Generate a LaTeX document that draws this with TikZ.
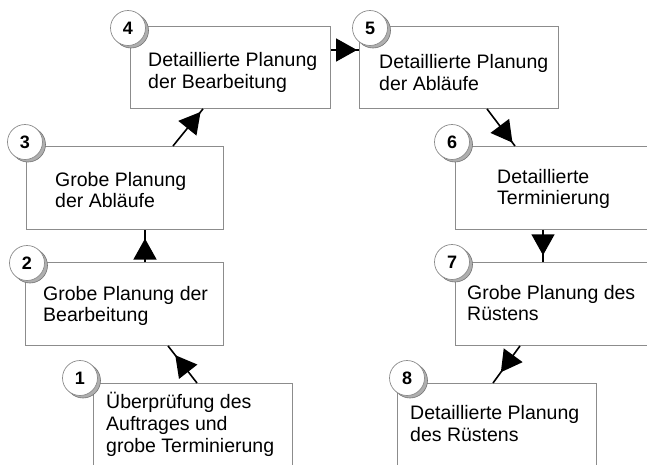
\documentclass[tikz,border=0pt]{standalone}
\usepackage{fontspec}
\setmainfont{Liberation Sans}
\usetikzlibrary{arrows.meta,decorations.markings,shadows}
\definecolor{boxline}{RGB}{140,140,140}
\definecolor{shadowfill}{RGB}{175,175,175}
\definecolor{shadowline}{RGB}{115,115,115}
\begin{document}
\begin{tikzpicture}[x=1pt,y=-1pt,
  stepbox/.style={draw=boxline, line width=0.9pt, fill=white, rectangle,
    anchor=north west, minimum width=199pt, minimum height=83pt, inner sep=0pt},
  steptext/.style={anchor=west, align=left, inner sep=0pt,
    font=\fontsize{19.5pt}{21.8pt}\selectfont},
  numcirc/.style={circle, draw=boxline, line width=0.7pt, fill=white,
    minimum size=35pt, inner sep=0pt, font=\fontsize{18pt}{18pt}\selectfont\bfseries,
    drop shadow={shadow xshift=3pt, shadow yshift=-2.5pt, fill=shadowfill,
      draw=shadowline, line width=0.6pt, opacity=1}},
  flowarrow/.style={draw=black, line width=1.6pt, postaction={decorate},
    decoration={markings, mark=at position #1 with
      {\arrow{Triangle[length=21pt,width=23pt]}}}}]
\useasboundingbox (0,0) rectangle (647,464);
\clip (0,0) rectangle (647,464);

% process steps
\node[stepbox] (b1) at (93,383) {};
\node[stepbox, minimum width=198pt] (b2) at (25,262) {};
\node[stepbox, minimum width=197pt] (b3) at (26,146) {};
\node[stepbox, minimum width=200pt, minimum height=82pt] (b4) at (130,26) {};
\node[stepbox, minimum height=82pt] (b5) at (359,26) {};
\node[stepbox, minimum width=210pt] (b6) at (455,146) {};
\node[stepbox, minimum width=210pt] (b7) at (455,262) {};
\node[stepbox] (b8) at (397,383) {};

\node[steptext] (t1) at (106,424.5) {Überprüfung des\\Auftrages und\\grobe Terminierung};
\node[steptext] (t2) at (43,306) {Grobe Planung der\\Bearbeitung};
\node[steptext] (t3) at (55,190) {Grobe Planung\\der Abläufe};
\node[steptext] (t4) at (148,72.5) {Detaillierte Planung\\der Bearbeitung};
\node[steptext] (t5) at (379,72.5) {Detaillierte Planung\\der Abläufe};
\node[steptext] (t6) at (497,189) {Detaillierte\\Terminierung};
\node[steptext] (t7) at (467,303) {Grobe Planung des\\Rüstens};
\node[steptext] (t8) at (410,423.5) {Detaillierte Planung\\des Rüstens};

% connectors between the steps
\draw[flowarrow=0.75] ([xshift=104pt]b1.north west) -- ([xshift=143pt]b2.south west);
\draw[flowarrow=0.73] ([xshift=120pt]b2.north west) -- ([xshift=119pt]b3.south west);
\draw[flowarrow=0.92] ([xshift=147pt]b3.north west) -- ([xshift=73pt]b4.south west);
\draw[flowarrow=0.93] ([yshift=-24pt]b4.north east) -- ([yshift=-24pt]b5.north west);
\draw[flowarrow=0.91] ([xshift=128pt]b5.south west) -- ([xshift=60pt]b6.north west);
\draw[flowarrow=0.79] ([xshift=88pt]b6.south west) -- ([xshift=88pt]b7.north west);
\draw[flowarrow=0.71] ([xshift=65pt]b7.south west) -- ([xshift=96pt]b8.north west);

% step numbers
\node[numcirc] (c1) at (80,378) {1};
\node[numcirc] (c2) at (27,263) {2};
\node[numcirc] (c3) at (25,142) {3};
\node[numcirc] (c4) at (128,28) {4};
\node[numcirc] (c5) at (370,28) {5};
\node[numcirc] (c6) at (452,142) {6};
\node[numcirc] (c7) at (452,262) {7};
\node[numcirc] (c8) at (407,378) {8};
\end{tikzpicture}
\end{document}
